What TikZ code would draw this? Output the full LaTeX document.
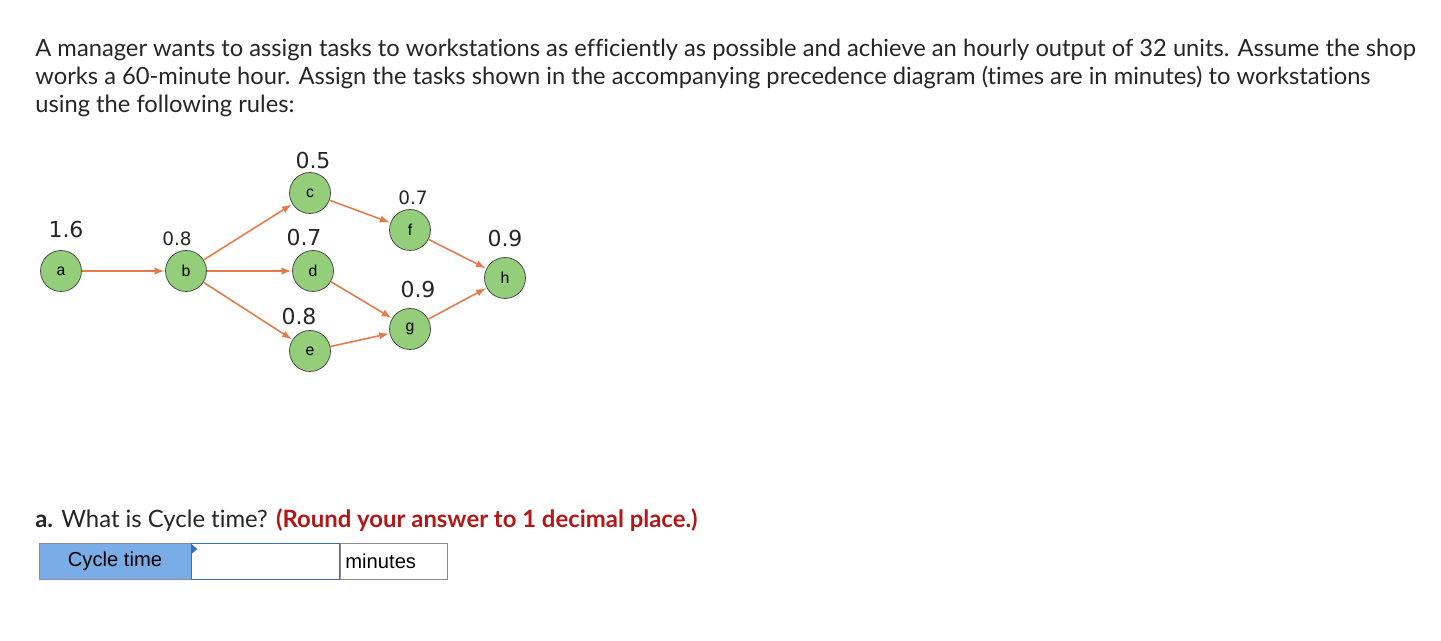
\documentclass[tikz,border=0pt]{standalone}
\usepackage{fontspec}
\setmainfont{Lato}[Ligatures=NoCommon]
\newfontfamily\diagfont{DejaVu Sans}
\newfontfamily\formfont{Liberation Sans}
\usepackage{xcolor}
\usetikzlibrary{positioning}
\definecolor{taskgreen}{RGB}{148,206,122}
\definecolor{flowline}{RGB}{226,124,78}
\definecolor{askred}{RGB}{178,24,24}
\definecolor{cellblue}{RGB}{122,172,232}
\definecolor{inputblue}{RGB}{60,110,190}
\definecolor{bodytext}{RGB}{38,38,38}
\tikzset{basic/.style={draw,fill=none,
                       text badly centered,minimum width=3em}}
\begin{document}
\begin{tikzpicture}[x=0.02cm,y=-0.02cm,>=latex,
      % styles for clarity
      task/.style   ={draw=black!75, fill=taskgreen, circle, inner sep=0pt,
                      minimum size=0.82cm, font=\formfont\fontsize{9}{10}\selectfont},
      time/.style   ={font=\diagfont\fontsize{12.5}{14}\selectfont, text=black!85},
      stime/.style  ={font=\diagfont\fontsize{10.5}{12}\selectfont, text=black!85},
      flow/.style   ={->, draw=flowline, line width=0.9pt, shorten >=0.5pt},
      line/.style   ={anchor=base west, inner sep=0pt, text=bodytext,
                      font=\fontsize{13.5}{17}\selectfont},
      cell/.style   ={draw=black!45, inner sep=0pt, minimum height=0.72cm,
                      font=\formfont\fontsize{11.5}{13}\selectfont}
    ]
    \useasboundingbox[fill=white] (0,0) rectangle (1441,641);

    % problem statement
    \node[line] (l1) at (35,57) {A manager wants to assign tasks to workstations as efficiently as possible and achieve an hourly output of 32 units. Assume the shop};
    \node[line] (l2) at (35,85) {works a 60-minute hour. Assign the tasks shown in the accompanying precedence diagram (times are in minutes) to workstations};
    \node[line] (l3) at (35,113) {using the following rules:};

    % tasks of the precedence diagram
    \foreach \n/\x/\y in {a/61/271, b/186/271, c/310/193, d/313/271,
                          e/310/351, f/410/230, g/410/329, h/505/278}{
      \node[task] (\n) at (\x,\y) {\n};
    }

    % times (minutes)
    \foreach \t/\x/\y in {1.6/66/230, 0.5/313/161, 0.7/304/238,
                          0.9/505/239, 0.9/418/290, 0.8/299/317}{
      \node[time] at (\x,\y) {\t};
    }
    \foreach \t/\x/\y in {0.8/177/239, 0.7/413/198}{
      \node[stime] at (\x,\y) {\t};
    }

    % precedence relations
    \foreach \s/\e in {a/b, b/c, b/d, b/e, c/f, d/g, e/g, f/h, g/h}{
      \draw[flow] (\s) -- (\e);
    }

    % question
    \node[line, font=\fontsize{13.6}{17}\selectfont] (q) at (35,528) {\textbf{a.} What is Cycle time? \textcolor{askred}{\textbf{(Round your answer to 1 decimal place.)}}};

    % answer form
    \node[cell, fill=cellblue, minimum width=3.04cm] (lbl) at (115,561.5) {Cycle time};
    \node[cell, draw=inputblue, fill=white, minimum width=2.96cm, right=0pt of lbl] (ans) {};
    \node[cell, fill=white, minimum width=2.14cm, right=0pt of ans] (unit) {};
    \node[anchor=west, inner sep=0pt, font=\formfont\fontsize{11.5}{13}\selectfont]
      (unittxt) at ([xshift=0.1cm]unit.west) {minutes};
    \fill[inputblue] ([yshift=-0.5pt]ans.north west) -- ++(6,5) -- ++(-6,5) -- cycle;
\end{tikzpicture}
\end{document}
